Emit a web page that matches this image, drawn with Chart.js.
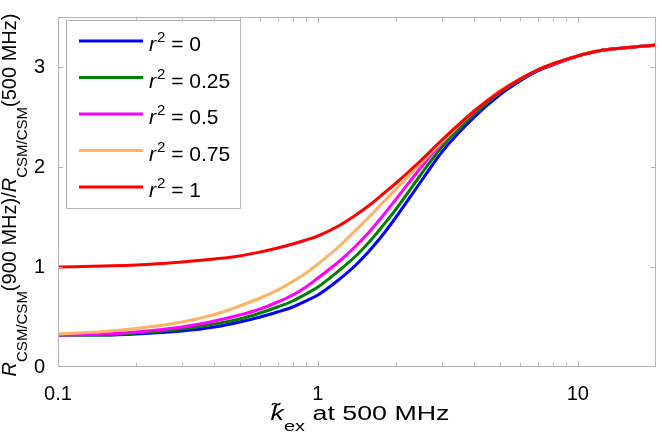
<!DOCTYPE html>
<html>
<head>
    <title>Relaxation ratio</title>
    <script src="https://cdn.jsdelivr.net/npm/chart.js"></script>
    <style>
        body { margin: 0; background: #fff; }
    </style>
</head>
<body>
    <canvas id="ratioChart" width="663" height="433"></canvas>

    <script>
        // k_ex at 500 MHz (x axis, log)
        const kex = [0.1, 0.15, 0.2, 0.3, 0.4, 0.5, 0.6, 0.7, 0.8, 0.9, 1.0, 1.2, 1.4, 1.6, 1.8, 2, 2.5, 3, 4, 5, 6, 7, 8, 10, 12, 15, 20];
        // ratio R(900 MHz)/R(500 MHz) for each r^2
        const r2Labels = ['0', '0.25', '0.5', '0.75', '1'];
        const ratioR0   = [0.32, 0.32, 0.33, 0.36, 0.40, 0.45, 0.50, 0.55, 0.60, 0.66, 0.72, 0.87, 1.02, 1.18, 1.34, 1.50, 1.86, 2.15, 2.50, 2.72, 2.86, 2.96, 3.02, 3.11, 3.16, 3.19, 3.22];
        const ratioR025 = [0.32, 0.32, 0.34, 0.38, 0.43, 0.48, 0.54, 0.60, 0.66, 0.73, 0.80, 0.96, 1.11, 1.27, 1.43, 1.58, 1.93, 2.20, 2.53, 2.74, 2.87, 2.97, 3.03, 3.11, 3.16, 3.19, 3.22];
        const ratioR05  = [0.32, 0.33, 0.35, 0.40, 0.46, 0.52, 0.58, 0.65, 0.72, 0.80, 0.89, 1.05, 1.21, 1.37, 1.53, 1.68, 2.00, 2.24, 2.56, 2.75, 2.88, 2.97, 3.03, 3.11, 3.16, 3.19, 3.22];
        const ratioR075 = [0.33, 0.355, 0.385, 0.45, 0.525, 0.61, 0.69, 0.77, 0.855, 0.94, 1.03, 1.20, 1.37, 1.52, 1.66, 1.78, 2.04, 2.25, 2.56, 2.76, 2.88, 2.97, 3.03, 3.11, 3.16, 3.19, 3.22];
        const ratioR1   = [1.00, 1.01, 1.02, 1.05, 1.08, 1.11, 1.15, 1.19, 1.23, 1.27, 1.31, 1.41, 1.52, 1.63, 1.74, 1.84, 2.07, 2.27, 2.56, 2.75, 2.88, 2.97, 3.03, 3.11, 3.16, 3.19, 3.22];
        const seriesValues = [ratioR0, ratioR025, ratioR05, ratioR075, ratioR1];
        const colors = ['#0000ff', '#008000', '#ff00ff', '#ffb266', '#ff0000'];

        const xTickValues = [0.1, 0.2, 0.3, 0.4, 0.5, 0.6, 0.7, 0.8, 0.9, 1, 2, 3, 4, 5, 6, 7, 8, 9, 10, 20];
        const xTickLabels = {0.1: '0.1', 1: '1', 10: '10'};
        const yTickValues = [0, 1, 2, 3];

        const FONT = '"Liberation Sans", Arial, sans-serif';
        const axisGrey = '#b4b4b4';

        const datasets = seriesValues.map((vals, i) => ({
            label: 'r^2 = ' + r2Labels[i],
            data: kex.map((x, j) => ({x: x, y: vals[j]})),
            borderColor: colors[i],
            backgroundColor: colors[i],
            borderWidth: 3,
            pointRadius: 0,
            cubicInterpolationMode: 'monotone',
            order: seriesValues.length - i   // red on top
        }));

        // draws frame, inward ticks, axis titles and the legend
        const decor = {
            id: 'decor',
            afterDraw(chart) {
                const ctx = chart.ctx;
                const a = chart.chartArea;
                const xs = chart.scales.x, ys = chart.scales.y;
                ctx.save();

                // frame
                ctx.strokeStyle = axisGrey;
                ctx.lineWidth = 1;
                ctx.strokeRect(a.left + 0.5, a.top + 0.5, a.right - a.left - 1, a.bottom - a.top - 1);

                // ticks pointing inward on all four sides
                ctx.beginPath();
                xTickValues.forEach(v => {
                    if (v <= xs.min || v >= xs.max) return;
                    const px = Math.round(xs.getPixelForValue(v)) + 0.5;
                    const len = xTickLabels[v] ? 6 : 4;
                    ctx.moveTo(px, a.bottom); ctx.lineTo(px, a.bottom - len);
                    ctx.moveTo(px, a.top); ctx.lineTo(px, a.top + len);
                });
                yTickValues.forEach(v => {
                    if (v <= ys.min || v >= ys.max) return;
                    const py = Math.round(ys.getPixelForValue(v)) + 0.5;
                    ctx.moveTo(a.left, py); ctx.lineTo(a.left + 5, py);
                    ctx.moveTo(a.right, py); ctx.lineTo(a.right - 5, py);
                });
                ctx.stroke();

                ctx.fillStyle = '#000';
                ctx.textBaseline = 'alphabetic';
                ctx.textAlign = 'left';

                // y title, rotated, with subscripts
                const main = '20px ' + FONT, mainIt = 'italic 20px ' + FONT, sub = '15px ' + FONT;
                const parts = [
                    [mainIt, 'R', 0], [sub, 'CSM/CSM', 10.5], [main, '(900 MHz)/', 0],
                    [mainIt, 'R', 0], [sub, 'CSM/CSM', 10.5], [main, '(500 MHz)', 0]
                ];
                let total = 0;
                parts.forEach(p => { ctx.font = p[0]; total += ctx.measureText(p[1]).width; });
                ctx.translate(16, (a.top + a.bottom) / 2 + 3 + total / 2);
                ctx.rotate(-Math.PI / 2);
                let u = 0;
                parts.forEach(p => {
                    ctx.font = p[0];
                    ctx.fillText(p[1], u, p[2]);
                    u += ctx.measureText(p[1]).width;
                });
                ctx.setTransform(1, 0, 0, 1, 0, 0);

                // x title, stretched sideways like the original
                const xParts = [['italic 20px ' + FONT, 'k', 0], ['15px ' + FONT, 'ex', 11], ['20px ' + FONT, ' at 500 MHz', 0]];
                let xw = 0;
                xParts.forEach(p => { ctx.font = p[0]; xw += ctx.measureText(p[1]).width; });
                const targetW = 179;
                const sx = targetW / xw;
                ctx.translate((a.left + a.right) / 2 - targetW / 2 + 3, 420);
                ctx.scale(sx, 1);
                let xx = 0;
                xParts.forEach((p, i) => {
                    ctx.font = p[0];
                    ctx.fillText(p[1], xx, p[2]);
                    if (i === 0) {
                        ctx.font = '20px ' + FONT;
                        ctx.fillText('\u02DC', xx + 1, -3);
                    }
                    xx += ctx.measureText(p[1]).width;
                });
                ctx.setTransform(1, 0, 0, 1, 0, 0);

                // legend
                const lx = 66, ly = 20, lw = 174, lh = 188;
                ctx.fillStyle = '#fff';
                ctx.fillRect(lx, ly, lw, lh);
                ctx.strokeStyle = axisGrey;
                ctx.strokeRect(lx + 0.5, ly + 0.5, lw, lh);
                chart.data.datasets.forEach((ds, i) => {
                    const yy = 41 + i * 36.5;
                    ctx.strokeStyle = ds.borderColor;
                    ctx.lineWidth = 3;
                    ctx.beginPath();
                    ctx.moveTo(79, yy); ctx.lineTo(143, yy);
                    ctx.stroke();
                    ctx.fillStyle = '#000';
                    let tx = 149;
                    ctx.font = 'italic 21px ' + FONT;
                    ctx.fillText('r', tx, yy + 10);
                    tx += ctx.measureText('r').width + 1;
                    ctx.font = '15px ' + FONT;
                    ctx.fillText('2', tx, yy + 1);
                    tx += ctx.measureText('2').width;
                    ctx.font = '21px ' + FONT;
                    ctx.fillText(' = ' + r2Labels[i], tx, yy + 10);
                });

                ctx.restore();
            }
        };

        const ctx = document.getElementById('ratioChart').getContext('2d');
        const myChart = new Chart(ctx, {
            type: 'line',
            data: { datasets: datasets },
            plugins: [decor],
            options: {
                responsive: false,
                animation: false,
                layout: { padding: { left: 0, top: 7, right: 1, bottom: 0 } },
                plugins: { legend: { display: false }, tooltip: { enabled: false } },
                scales: {
                    x: {
                        type: 'logarithmic',
                        min: 0.1,
                        max: 20,
                        afterBuildTicks: (s) => { s.ticks = xTickValues.map(v => ({value: v})); },
                        afterFit: (s) => { s.height = 66; },
                        grid: { display: false },
                        border: { display: false },
                        ticks: {
                            autoSkip: false,
                            maxRotation: 0,
                            padding: 7,
                            color: '#000',
                            font: { family: FONT, size: 20 },
                            callback: (v) => xTickLabels[v] || ''
                        }
                    },
                    y: {
                        min: 0,
                        max: 3.5,
                        afterBuildTicks: (s) => { s.ticks = yTickValues.map(v => ({value: v})); },
                        afterFit: (s) => { s.width = 58; },
                        grid: { display: false },
                        border: { display: false },
                        ticks: {
                            padding: 5,
                            color: '#000',
                            font: { family: FONT, size: 20 }
                        }
                    }
                }
            }
        });
    </script>
</body>
</html>
